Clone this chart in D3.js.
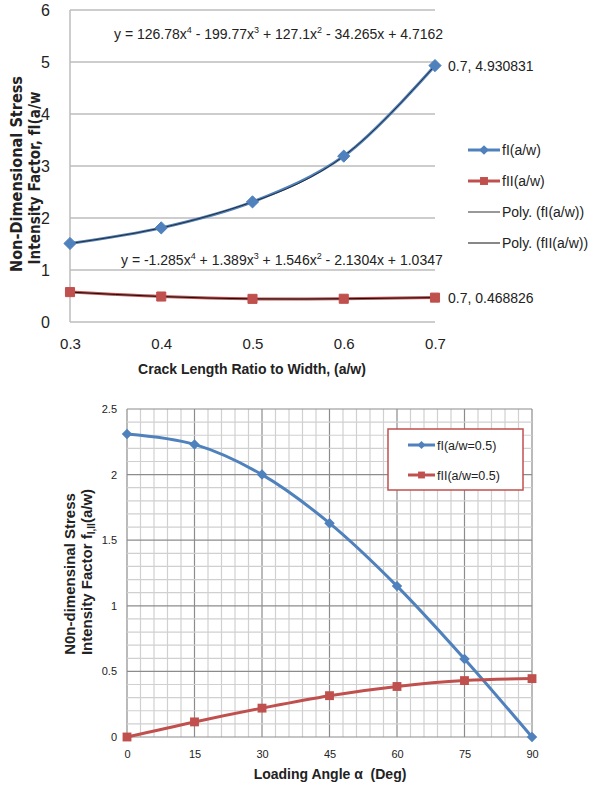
<!DOCTYPE html>
<html>
<head>
<meta charset="utf-8">
<script src="https://cdn.jsdelivr.net/npm/d3@7"></script>
<style>
  body { margin: 0; background: #fff; }
  text { font-family: "Liberation Sans Narrow", "Liberation Sans", Arial, sans-serif; fill: #222; }
</style>
</head>
<body>
<svg id="chart" width="592" height="787"></svg>
<script>
/// DATA ///
// top chart: crack length ratio
const ratios = [0.3, 0.4, 0.5, 0.6, 0.7];
const fI = [1.51, 1.81, 2.31, 3.19, 4.930831];
const fII = [0.575, 0.49, 0.445, 0.447, 0.468826];
const topYTicks = [0, 1, 2, 3, 4, 5, 6];
const topXTicks = [0.3, 0.4, 0.5, 0.6, 0.7];

// bottom chart: loading angle
const angles = [0, 15, 30, 45, 60, 75, 90];
const fIAngle = [2.31, 2.23, 2.0, 1.63, 1.15, 0.595, 0.0];
const fIIAngle = [0.0, 0.115, 0.22, 0.315, 0.385, 0.43, 0.445];
const botYTicks = [0, 0.5, 1, 1.5, 2, 2.5];
const botXTicks = [0, 15, 30, 45, 60, 75, 90];

const blue = "#4f81bd";
const red = "#c0504d";

const svg = d3.select("#chart");

/// TOP CHART ///
const t = { left: 70, right: 435, top: 10, bottom: 322 };
const x1 = d3.scaleLinear().domain([0.3, 0.7]).range([t.left, t.right]);
const y1 = d3.scaleLinear().domain([0, 6]).range([t.bottom, t.top]);

const gTop = svg.append("g");

// gridlines
gTop.selectAll(".hgrid")
  .data(topYTicks)
  .enter()
  .append("line")
  .attr("x1", t.left)
  .attr("x2", t.right)
  .attr("y1", d => y1(d))
  .attr("y2", d => y1(d))
  .attr("stroke", "#bdbdbd")
  .attr("stroke-width", 1.5);

gTop.append("line")
  .attr("x1", t.left).attr("x2", t.left)
  .attr("y1", t.top).attr("y2", t.bottom)
  .attr("stroke", "#bdbdbd")
  .attr("stroke-width", 1.5);

// axes (text only)
const yAx1 = d3.axisLeft(y1).tickValues(topYTicks).tickSize(0).tickPadding(20).tickFormat(d3.format("d"));
gTop.append("g")
  .attr("transform", `translate(${t.left},0)`)
  .call(yAx1)
  .call(g => g.select(".domain").remove())
  .selectAll("text")
  .style("font-size", "16px")
  .style("font-family", "'Liberation Sans Narrow', Arial, sans-serif")
  .attr("fill", "#222");

const xAx1 = d3.axisBottom(x1).tickValues(topXTicks).tickSize(0).tickPadding(16).tickFormat(d3.format(".1f"));
gTop.append("g")
  .attr("transform", `translate(0,${t.bottom})`)
  .call(xAx1)
  .call(g => g.select(".domain").remove())
  .selectAll("text")
  .style("font-size", "15px")
  .style("font-family", "'Liberation Sans Narrow', Arial, sans-serif")
  .attr("fill", "#222");

// axis titles
gTop.append("text")
  .attr("x", 252)
  .attr("y", 374)
  .attr("text-anchor", "middle")
  .style("font-size", "14px")
  .style("font-weight", "bold")
  .text("Crack Length Ratio to Width, (a/w)");

gTop.append("text")
  .attr("transform", "translate(22,174) rotate(-90)")
  .attr("text-anchor", "middle")
  .attr("textLength", 196)
  .attr("lengthAdjust", "spacingAndGlyphs")
  .style("font-size", "15px")
  .style("font-weight", "bold")
  .style("font-family", "'DejaVu Sans', Arial, sans-serif")
  .text("Non-Dimensional Stress");
gTop.append("text")
  .attr("transform", "translate(40,178) rotate(-90)")
  .attr("text-anchor", "middle")
  .attr("textLength", 173)
  .attr("lengthAdjust", "spacingAndGlyphs")
  .style("font-size", "15px")
  .style("font-weight", "bold")
  .style("font-family", "'DejaVu Sans', Arial, sans-serif")
  .text("Intensity Factor, fI(a/w");

// series lines
const topFI = ratios.map((r, i) => ({ x: r, y: fI[i] }));
const topFII = ratios.map((r, i) => ({ x: r, y: fII[i] }));

const smooth1 = d3.line().x(d => x1(d.x)).y(d => y1(d.y)).curve(d3.curveCatmullRom.alpha(0.5));
const trend1 = d3.line().x(d => x1(d.x)).y(d => y1(d.y)).curve(d3.curveNatural);

gTop.append("path").datum(topFI).attr("d", smooth1).attr("fill", "none").attr("stroke", blue).attr("stroke-width", 3);
gTop.append("path").datum(topFII).attr("d", smooth1).attr("fill", "none").attr("stroke", red).attr("stroke-width", 3);

// trendlines (thin black)
gTop.append("path").datum(topFI).attr("d", trend1).attr("fill", "none").attr("stroke", "#222").attr("stroke-width", 0.9);
gTop.append("path").datum(topFII).attr("d", trend1).attr("fill", "none").attr("stroke", "#111").attr("stroke-width", 1);

// markers
const diamond = d3.symbol().type(d3.symbolDiamond2);
const square = d3.symbol().type(d3.symbolSquare2);

gTop.selectAll(".m1")
  .data(topFI)
  .enter()
  .append("path")
  .attr("transform", d => `translate(${x1(d.x)},${y1(d.y)})`)
  .attr("d", diamond.size(95))
  .attr("fill", blue)
  .attr("stroke", blue);

gTop.selectAll(".m2")
  .data(topFII)
  .enter()
  .append("path")
  .attr("transform", d => `translate(${x1(d.x)},${y1(d.y)})`)
  .attr("d", square.size(105))
  .attr("fill", red)
  .attr("stroke", red);

// equations
const eq1 = gTop.append("text").attr("x", 114).attr("y", 39).style("font-size", "14px");
eq1.append("tspan").text("y = 126.78x");
eq1.append("tspan").attr("dy", -6).style("font-size", "9px").text("4");
eq1.append("tspan").attr("dy", 6).text(" - 199.77x");
eq1.append("tspan").attr("dy", -6).style("font-size", "9px").text("3");
eq1.append("tspan").attr("dy", 6).text(" + 127.1x");
eq1.append("tspan").attr("dy", -6).style("font-size", "9px").text("2");
eq1.append("tspan").attr("dy", 6).text(" - 34.265x + 4.7162");

const eq2 = gTop.append("text").attr("x", 121).attr("y", 265).style("font-size", "14px");
eq2.append("tspan").text("y = -1.285x");
eq2.append("tspan").attr("dy", -6).style("font-size", "9px").text("4");
eq2.append("tspan").attr("dy", 6).text(" + 1.389x");
eq2.append("tspan").attr("dy", -6).style("font-size", "9px").text("3");
eq2.append("tspan").attr("dy", 6).text(" + 1.546x");
eq2.append("tspan").attr("dy", -6).style("font-size", "9px").text("2");
eq2.append("tspan").attr("dy", 6).text(" - 2.1304x + 1.0347");

// data labels on last points
gTop.append("text")
  .attr("x", x1(0.7) + 13)
  .attr("y", y1(fI[4]) + 5)
  .style("font-size", "14px")
  .text(`0.7, ${fI[4]}`);
gTop.append("text")
  .attr("x", x1(0.7) + 13)
  .attr("y", y1(fII[4]) + 5)
  .style("font-size", "14px")
  .text(`0.7, ${fII[4]}`);

// legend
const leg1 = [
  { name: "fI(a/w)", color: blue, w: 3, mark: diamond.size(60) },
  { name: "fII(a/w)", color: red, w: 3, mark: square.size(80) },
  { name: "Poly. (fI(a/w))", color: "#333", w: 1, mark: null },
  { name: "Poly. (fII(a/w))", color: "#111", w: 1, mark: null }
];
const lg1 = gTop.selectAll(".leg1")
  .data(leg1)
  .enter()
  .append("g")
  .attr("transform", (d, i) => `translate(468,${150 + i * 31})`);
lg1.append("line").attr("x1", 0).attr("x2", 32).attr("stroke", d => d.color).attr("stroke-width", d => d.w);
lg1.filter(d => d.mark)
  .append("path")
  .attr("transform", "translate(16,0)")
  .attr("d", d => d.mark())
  .attr("fill", d => d.color);
lg1.append("text").attr("x", 34).attr("y", 5).style("font-size", "14px").text(d => d.name);

/// BOTTOM CHART ///
const b = { left: 127, right: 532, top: 409, bottom: 737 };
const x2 = d3.scaleLinear().domain([0, 90]).range([b.left, b.right]);
const y2 = d3.scaleLinear().domain([0, 2.5]).range([b.bottom, b.top]);

const gBot = svg.append("g");

// minor grid
gBot.selectAll(".vminor")
  .data(d3.range(0, 91, 3))
  .enter()
  .append("line")
  .attr("x1", d => x2(d)).attr("x2", d => x2(d))
  .attr("y1", b.top).attr("y2", b.bottom)
  .attr("stroke", d => d % 15 === 0 ? "#8c8c8c" : "#d0d0d0")
  .attr("stroke-width", 1.2);

gBot.selectAll(".hminor")
  .data(d3.range(0, 26).map(d => d / 10))
  .enter()
  .append("line")
  .attr("x1", b.left).attr("x2", b.right)
  .attr("y1", d => y2(d)).attr("y2", d => y2(d))
  .attr("stroke", (d, i) => i % 5 === 0 ? "#8c8c8c" : "#d0d0d0")
  .attr("stroke-width", 1.2);

// axes
const yAx2 = d3.axisLeft(y2).tickValues(botYTicks).tickSize(0).tickPadding(10).tickFormat(d => d);
gBot.append("g")
  .attr("transform", `translate(${b.left},0)`)
  .call(yAx2)
  .call(g => g.select(".domain").remove())
  .selectAll("text")
  .style("font-size", "11px")
  .style("font-family", "'Liberation Sans', Arial, sans-serif")
  .attr("fill", "#222");

const xAx2 = d3.axisBottom(x2).tickValues(botXTicks).tickSize(0).tickPadding(13).tickFormat(d => d);
gBot.append("g")
  .attr("transform", `translate(0,${b.bottom})`)
  .call(xAx2)
  .call(g => g.select(".domain").remove())
  .selectAll("text")
  .style("font-size", "11px")
  .style("font-family", "'Liberation Sans', Arial, sans-serif")
  .attr("fill", "#222");

gBot.append("text")
  .attr("x", 330)
  .attr("y", 779)
  .attr("text-anchor", "middle")
  .style("font-size", "14px")
  .style("font-weight", "bold")
  .style("white-space", "pre")
  .style("font-family", "'Liberation Sans', Arial, sans-serif")
  .text("Loading Angle α  (Deg)");

gBot.append("text")
  .attr("transform", "translate(75,574) rotate(-90)")
  .attr("text-anchor", "middle")
  .style("font-size", "15px")
  .style("font-weight", "bold")
  .style("font-family", "'Liberation Sans', Arial, sans-serif")
  .text("N0n-dimensinal Stress");
const l2 = gBot.append("text")
  .attr("transform", "translate(92,572) rotate(-90)")
  .attr("text-anchor", "middle")
  .style("font-size", "15px")
  .style("font-weight", "bold")
  .style("font-family", "'Liberation Sans', Arial, sans-serif");
l2.append("tspan").text("Intensity Factor f");
l2.append("tspan").attr("dy", 3).style("font-size", "10px").text("I,II");
l2.append("tspan").attr("dy", -3).text("(a/w)");

// series
const botFI = angles.map((a, i) => ({ x: a, y: fIAngle[i] }));
const botFII = angles.map((a, i) => ({ x: a, y: fIIAngle[i] }));
const smooth2 = d3.line().x(d => x2(d.x)).y(d => y2(d.y)).curve(d3.curveCatmullRom.alpha(0.5));

gBot.append("path").datum(botFI).attr("d", smooth2).attr("fill", "none").attr("stroke", blue).attr("stroke-width", 3);
gBot.append("path").datum(botFII).attr("d", smooth2).attr("fill", "none").attr("stroke", red).attr("stroke-width", 3);

gBot.selectAll(".bm1")
  .data(botFI)
  .enter()
  .append("path")
  .attr("transform", d => `translate(${x2(d.x)},${y2(d.y)})`)
  .attr("d", diamond.size(70))
  .attr("fill", blue);

gBot.selectAll(".bm2")
  .data(botFII)
  .enter()
  .append("path")
  .attr("transform", d => `translate(${x2(d.x)},${y2(d.y)})`)
  .attr("d", square.size(100))
  .attr("fill", red);

// legend box
const lgBox = gBot.append("g").attr("transform", "translate(388,429)");
lgBox.append("rect")
  .attr("width", 135)
  .attr("height", 61)
  .attr("fill", "#fff")
  .attr("stroke", red)
  .attr("stroke-width", 1.5);
const leg2 = [
  { name: "fI(a/w=0.5)", color: blue, mark: diamond.size(40) },
  { name: "fII(a/w=0.5)", color: red, mark: square.size(60) }
];
const lg2 = lgBox.selectAll(".leg2")
  .data(leg2)
  .enter()
  .append("g")
  .attr("transform", (d, i) => `translate(20,${16 + i * 30})`);
lg2.append("line").attr("x1", 0).attr("x2", 27).attr("stroke", d => d.color).attr("stroke-width", 3);
lg2.append("path").attr("transform", "translate(13.5,0)").attr("d", d => d.mark()).attr("fill", d => d.color);
lg2.append("text")
  .attr("x", 29)
  .attr("y", 5)
  .style("font-size", "12.5px")
  .style("font-family", "'Liberation Sans', Arial, sans-serif")
  .text(d => d.name);
</script>
</body>
</html>
